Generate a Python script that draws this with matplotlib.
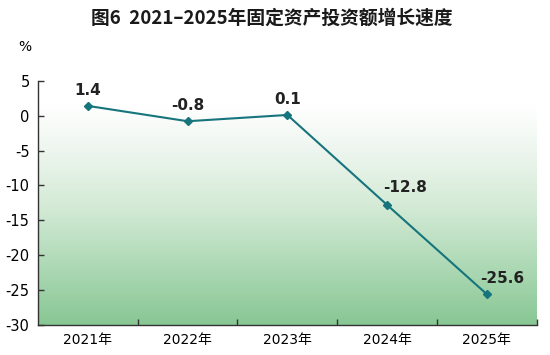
import matplotlib
matplotlib.use("Agg")
import matplotlib.pyplot as plt
import numpy as np
from matplotlib.colors import LinearSegmentedColormap

plt.rcParams['font.family'] = ['Noto Sans CJK SC', 'DejaVu Sans']

years = ["2021年", "2022年", "2023年", "2024年", "2025年"]
values = [1.4, -0.8, 0.1, -12.8, -25.6]
yticks = [5, 0, -5, -10, -15, -20, -25, -30]
title = "图6  2021–2025年固定资产投资额增长速度"

fig = plt.figure(figsize=(5.5, 3.55), dpi=100)
ax = fig.add_axes([0.069, 0.0845, 0.907, 0.688])

x = np.arange(len(years))
ax.set_xlim(-0.5, len(years) - 0.5)
ax.set_ylim(-30, 5)

cmap = LinearSegmentedColormap.from_list(
    "g", [(0, "#88c794"), (0.3, "#b2dbb9"), (0.55, "#d5ebd7"), (0.8, "#eef6ef"), (1, "#ffffff")])
grad = np.linspace(0, 1, 256).reshape(-1, 1)
ax.imshow(grad, extent=[-0.5, len(years) - 0.5, -30, 1.5], origin="lower",
          aspect="auto", cmap=cmap, zorder=0)

color = "#16747c"
ax.plot(x, values, color=color, lw=1.5, marker="D", ms=4, zorder=3)

offsets = [(0, 6), (0, 6), (0, 6), (13, 7), (11, 6)]
for xi, v, (dx, dy) in zip(x, values, offsets):
    ax.annotate(f"{v}", (xi, v), xytext=(dx, dy), textcoords="offset points",
                ha="center", va="bottom", fontsize=11, fontweight="bold",
                color="#222222", family=["DejaVu Sans"])

ax.set_yticks(yticks)
ax.set_yticklabels([str(t) for t in yticks], family=["DejaVu Sans"])
ax.set_xticks(x)
ax.set_xticklabels(years, family=["DejaVu Sans", "Noto Sans CJK SC"])
ax.set_xticks(np.arange(0.5, len(years), 1), minor=True)
ax.tick_params(axis="x", which="major", length=0, pad=6, labelsize=10)
ax.tick_params(axis="x", which="minor", length=4, direction="in", width=1, color="#333333")
ax.tick_params(axis="y", length=4, direction="in", width=1, labelsize=10.5, color="#333333", pad=6)

for s in ["top", "right"]:
    ax.spines[s].set_visible(False)
for s in ["left", "bottom"]:
    ax.spines[s].set_color("#333333")
    ax.spines[s].set_linewidth(1)

fig.text(0.495, 0.948, title, ha="center", va="center", fontsize=13.5, fontweight="bold",
         color="#1a1a1a")
fig.text(0.033, 0.868, "%", ha="left", va="center", fontsize=10, family=["DejaVu Sans"])

fig.savefig("out.png", dpi=100)
